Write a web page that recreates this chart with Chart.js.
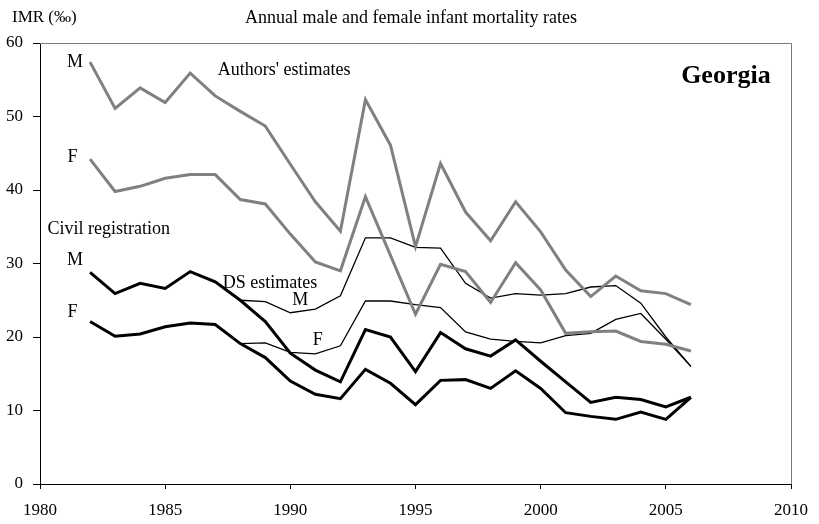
<!DOCTYPE html>
<html>
<head>
<meta charset="utf-8">
<script src="https://cdn.jsdelivr.net/npm/chart.js@4/dist/chart.umd.min.js"></script>
<style>
  html, body { margin: 0; padding: 0; background: #fff; }
  #wrap { width: 819px; height: 524px; position: relative; }
</style>
</head>
<body>
<div id="wrap"><canvas id="imr"></canvas></div>
<script>
const years = [1982, 1983, 1984, 1985, 1986, 1987, 1988, 1989, 1990, 1991, 1992, 1993,
  1994, 1995, 1996, 1997, 1998, 1999, 2000, 2001, 2002, 2003, 2004, 2005, 2006];
const dsYears = [1988, 1989, 1990, 1991, 1992, 1993, 1994, 1995, 1996, 1997, 1998,
  1999, 2000, 2001, 2002, 2003, 2004, 2005, 2006];

// authors' estimates (grey)
const authorsM = [57.4, 51.1, 53.9, 51.9, 55.9, 52.8, 50.7, 48.7, 43.5, 38.4, 34.4, 52.3,
  46.1, 32.3, 43.6, 37.0, 33.1, 38.4, 34.3, 29.1, 25.5, 28.3, 26.3, 25.9, 24.4];
const authorsF = [44.2, 39.8, 40.5, 41.6, 42.1, 42.1, 38.7, 38.1, 34.0, 30.2, 29.0, 39.1,
  31.1, 23.1, 29.9, 28.9, 24.7, 30.1, 26.4, 20.5, 20.7, 20.8, 19.4, 19.0, 18.1];

// civil registration (thick black)
const civilM = [28.8, 25.9, 27.3, 26.6, 28.9, 27.5, 25.0, 22.1, 17.8, 15.5, 13.9, 21.0,
  20.0, 15.3, 20.6, 18.4, 17.4, 19.6, 16.7, 13.9, 11.1, 11.8, 11.5, 10.5, 11.8];
const civilF = [22.1, 20.1, 20.4, 21.4, 21.9, 21.7, 19.1, 17.2, 14.0, 12.2, 11.6, 15.6,
  13.7, 10.8, 14.1, 14.2, 13.0, 15.4, 13.0, 9.7, 9.2, 8.8, 9.8, 8.8, 11.8];

// DS estimates (thin black)
const dsM = [25.0, 24.8, 23.3, 23.8, 25.6, 33.5, 33.5, 32.2, 32.1, 27.3, 25.3, 25.9,
  25.7, 25.9, 26.8, 27.0, 24.6, 20.0, 16.0];
const dsF = [19.1, 19.2, 17.9, 17.7, 18.8, 24.9, 24.9, 24.4, 24.0, 20.7, 19.7, 19.4,
  19.2, 20.2, 20.5, 22.4, 23.2, 19.7, 16.0];

const xTicks = [1980, 1985, 1990, 1995, 2000, 2005, 2010];
const yTicks = [0, 10, 20, 30, 40, 50, 60];

const chartTitle = "Annual male and female infant mortality rates";
const yTitle = "IMR (\u2030)";
const country = "Georgia";

// in-plot labels, placed in data units
const notes = [
  { text: "M", x: 1981.4, y: 57.4, align: "center" },
  { text: "Authors' estimates", x: 1987.1, y: 56.3, align: "left" },
  { text: "F", x: 1981.3, y: 44.5, align: "center" },
  { text: "Civil registration", x: 1980.3, y: 34.6, align: "left" },
  { text: "M", x: 1981.4, y: 30.5, align: "center" },
  { text: "F", x: 1981.3, y: 23.4, align: "center" },
  { text: "DS estimates", x: 1987.3, y: 27.3, align: "left" },
  { text: "M", x: 1990.4, y: 25.0, align: "center" },
  { text: "F", x: 1991.1, y: 19.5, align: "center" },
];

const SERIF = "'Liberation Serif', 'Times New Roman', serif";

function pts(xs, ys) {
  return xs.map((x, i) => ({ x: x, y: ys[i] }));
}

function series(label, xs, ys, color, width) {
  return {
    label: label,
    data: pts(xs, ys),
    borderColor: color,
    borderWidth: width,
    pointRadius: 0,
    tension: 0,
    fill: false,
  };
}

const textPlugin = {
  id: "texts",
  afterDraw(chart) {
    const ctx = chart.ctx;
    const area = chart.chartArea;
    const sx = chart.scales.x;
    const sy = chart.scales.y;
    ctx.save();

    // top and right frame
    ctx.strokeStyle = "#7a7a7a";
    ctx.lineWidth = 1;
    ctx.beginPath();
    ctx.moveTo(area.left, area.top + 0.5);
    ctx.lineTo(area.right + 0.5, area.top + 0.5);
    ctx.lineTo(area.right + 0.5, area.bottom);
    ctx.stroke();

    ctx.fillStyle = "#000";
    ctx.textBaseline = "middle";
    ctx.font = "17px " + SERIF;
    ctx.textAlign = "left";
    ctx.fillText(yTitle, 12, 18);
    ctx.font = "18px " + SERIF;
    ctx.textAlign = "center";
    ctx.fillText(chartTitle, 411, 18);

    for (const n of notes) {
      ctx.textAlign = n.align;
      ctx.fillText(n.text, sx.getPixelForValue(n.x), sy.getPixelForValue(n.y));
    }

    ctx.font = "bold 26px " + SERIF;
    ctx.textAlign = "center";
    ctx.fillText(country, sx.getPixelForValue(2007.4), sy.getPixelForValue(55.5));
    ctx.restore();
  },
};

new Chart(document.getElementById("imr"), {
  type: "line",
  data: {
    datasets: [
      series("Authors M", years, authorsM, "#808080", 3),
      series("Authors F", years, authorsF, "#808080", 3),
      series("DS M", dsYears, dsM, "#000", 1.3),
      series("DS F", dsYears, dsF, "#000", 1.3),
      series("Civil M", years, civilM, "#000", 3),
      series("Civil F", years, civilF, "#000", 3),
    ],
  },
  options: {
    responsive: true,
    maintainAspectRatio: false,
    animation: false,
    devicePixelRatio: 1,
    layout: { padding: { top: 43, right: 23, left: 0, bottom: 0 } },
    plugins: { legend: { display: false }, tooltip: { enabled: false } },
    scales: {
      x: {
        type: "linear",
        min: 1980,
        max: 2010,
        afterBuildTicks(scale) {
          scale.ticks = xTicks.map((v) => ({ value: v }));
        },
        afterFit(scale) { scale.height = 40; },
        grid: { drawOnChartArea: false, drawTicks: true, tickLength: 5, color: "#000" },
        border: { display: true, color: "#000", width: 1 },
        ticks: {
          padding: 11,
          color: "#000",
          font: { family: SERIF, size: 17 },
          maxRotation: 0,
          callback: (v) => String(v),
        },
      },
      y: {
        min: 0,
        max: 60,
        afterBuildTicks(scale) {
          scale.ticks = yTicks.map((v) => ({ value: v }));
        },
        afterFit(scale) { scale.width = 40; },
        grid: { drawOnChartArea: false, drawTicks: true, tickLength: 7, color: "#000" },
        border: { display: true, color: "#000", width: 1 },
        ticks: {
          padding: 10,
          color: "#000",
          font: { family: SERIF, size: 17 },
        },
      },
    },
  },
  plugins: [textPlugin],
});
</script>
</body>
</html>
